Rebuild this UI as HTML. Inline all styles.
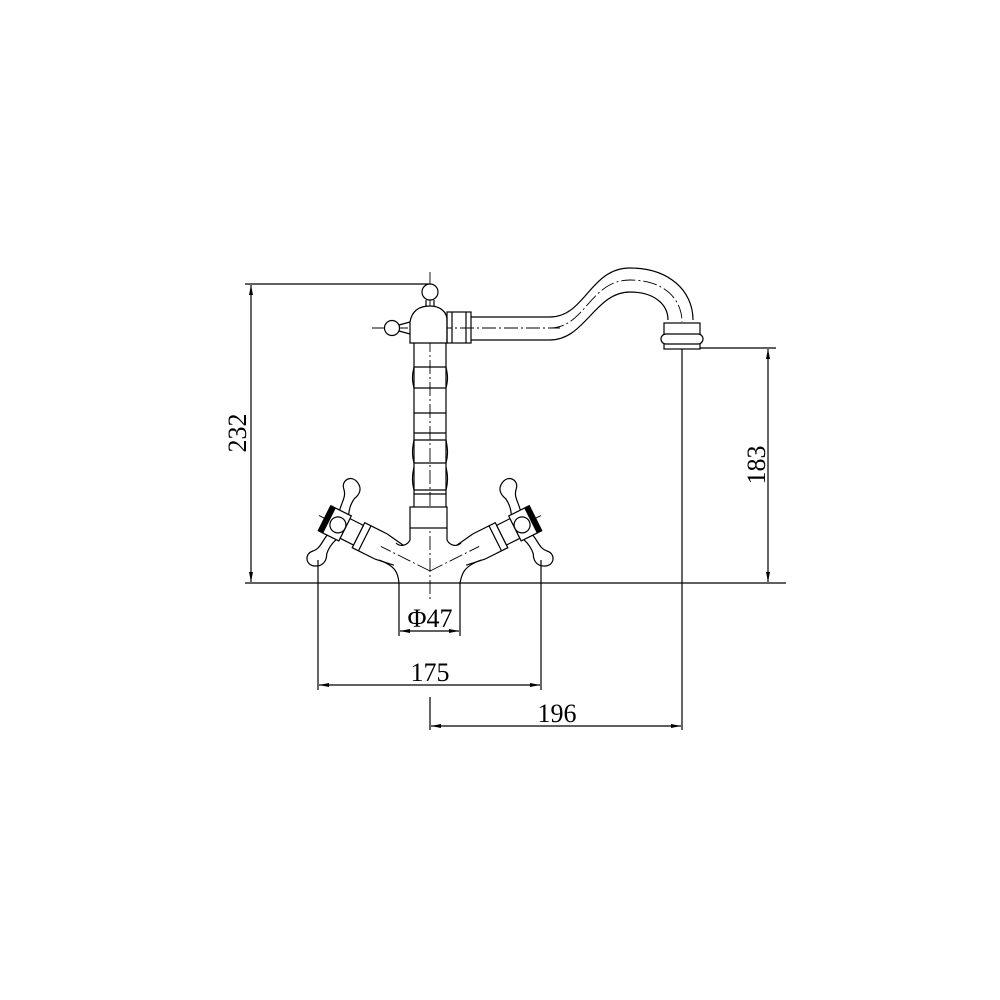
<!DOCTYPE html>
<html><head><style>html,body{margin:0;padding:0;background:#fff}svg{display:block}</style></head>
<body>
<svg width="1000" height="1000" viewBox="0 0 1000 1000" xmlns="http://www.w3.org/2000/svg">
<defs>
<marker id="a" viewBox="0 0 10 4" refX="10" refY="2" markerWidth="10" markerHeight="4" orient="auto-start-reverse" markerUnits="userSpaceOnUse"><path d="M0,0 L10,2 L0,4 z" fill="#000"/></marker>
</defs>
<g fill="none" stroke="#000" stroke-width="1.2">
<line x1="245" y1="583" x2="786" y2="583"/>
<line x1="245" y1="284" x2="430" y2="284"/>
<line x1="251" y1="285" x2="251" y2="582" marker-start="url(#a)" marker-end="url(#a)"/>
<line x1="682" y1="348" x2="776" y2="348"/>
<line x1="768" y1="349" x2="768" y2="582" marker-start="url(#a)" marker-end="url(#a)"/>
<line x1="682" y1="348" x2="682" y2="730"/>
<line x1="430" y1="697" x2="430" y2="730"/>
<line x1="431" y1="726" x2="681" y2="726" marker-start="url(#a)" marker-end="url(#a)"/>
<line x1="318" y1="560" x2="318" y2="690"/>
<line x1="541" y1="560" x2="541" y2="690"/>
<line x1="319" y1="685" x2="540" y2="685" marker-start="url(#a)" marker-end="url(#a)"/>
<line x1="399" y1="583" x2="399" y2="636"/>
<line x1="460" y1="583" x2="460" y2="636"/>
<line x1="400" y1="631" x2="459" y2="631" marker-start="url(#a)" marker-end="url(#a)"/>
<g stroke-width="0.9" stroke-dasharray="14,3,2,3">
<line x1="430" y1="272" x2="430" y2="600"/>
<line x1="372" y1="328" x2="560" y2="328"/>
<path d="M550,328 C585,328 590,280 630,280 C665,280 682,300 682,322"/>
<line x1="430" y1="571" x2="318" y2="515"/>
<line x1="430" y1="571" x2="542" y2="515"/>
</g>
<circle cx="430" cy="292" r="8" fill="#fff"/>
<path d="M426,300 L426,308 L434,308 L434,300"/>
<path d="M410,322 C412,310 420,306 430,306 C440,306 448,312 447,322 L447,343 L410,343 Z" fill="#fff"/>
<circle cx="392" cy="328" r="7.5" fill="#fff"/>
<path d="M399,325 L410,322 M399,331 L410,334"/>
<rect x="447" y="312" width="24" height="31"/>
<line x1="452" y1="312" x2="452" y2="343"/>
<line x1="466" y1="312" x2="466" y2="343"/>
<path d="M471,317 L550,317 C585,317 590,268 630,268 C668,268 693,290 693,320"/>
<path d="M471,340 L550,340 C585,340 595,292 630,292 C655,292 668,305 668,320"/>
<rect x="664" y="323" width="36" height="26" fill="#fff"/>
<rect x="661" y="334" width="42" height="10" rx="5" fill="#fff"/>
<path d="M414,343 L414,507 M446,343 L446,507"/>
<path d="M414,367 L446,367 M414,388 L446,388 M414,413 L446,413 M414,433 L446,433 M414,440 L446,440 M414,463 L446,463 M414,490 L446,490 M414,494 L446,494"/>
<path d="M414,367 C412,376 412,380 414,388 M446,367 C448,376 448,380 446,388 M414,440 C412,450 412,455 414,463 M446,440 C448,450 448,455 446,463 M414,467 C412,476 412,482 414,490 M446,467 C448,476 448,482 446,490"/>
<rect x="410" y="507" width="37" height="21" fill="#fff"/>
<path d="M410,528 L410,540 C407,546 400,547 396,543"/>
<path d="M447,528 L447,540 C450,546 457,547 461,543"/>
<path d="M379,560 C395,566 398,572 399,583"/>
<path d="M481,560 C465,566 462,572 460,583"/>
<g id="v" transform="rotate(26.6 430 571)">
<path d="M375,557 L350,557 L350,585 L375,585" fill="#fff"/>
<line x1="357" y1="557" x2="357" y2="585"/>
<path d="M375,557 L395,560 M375,585 L395,582"/>
<rect x="335" y="560" width="15" height="22" fill="#fff"/>
<rect x="317" y="557" width="18" height="28" fill="#fff"/>
<rect x="312" y="557" width="4" height="28" fill="#000"/>
<circle cx="327" cy="571" r="8"/>
<path d="M322,557 C320,548 322,542 316,536 C310,530 316,520 325,524 C334,528 332,536 330,540 C329,546 330,552 332,557"/>
<path d="M322,585 C320,594 322,600 316,606 C310,612 316,622 325,618 C334,614 332,606 330,602 C329,596 330,590 332,585"/>
</g>
<g transform="translate(860 0) scale(-1 1)"><use href="#v"/></g>
</g>
<g font-family="'Liberation Serif',serif" font-size="26" fill="#000" text-anchor="middle">
<text x="430" y="681">175</text>
<text x="557" y="722">196</text>
<text x="430" y="627">Φ47</text>
<text transform="translate(246 433) rotate(-90)">232</text>
<text transform="translate(765 465) rotate(-90)">183</text>
</g>
</svg>
</body></html>
